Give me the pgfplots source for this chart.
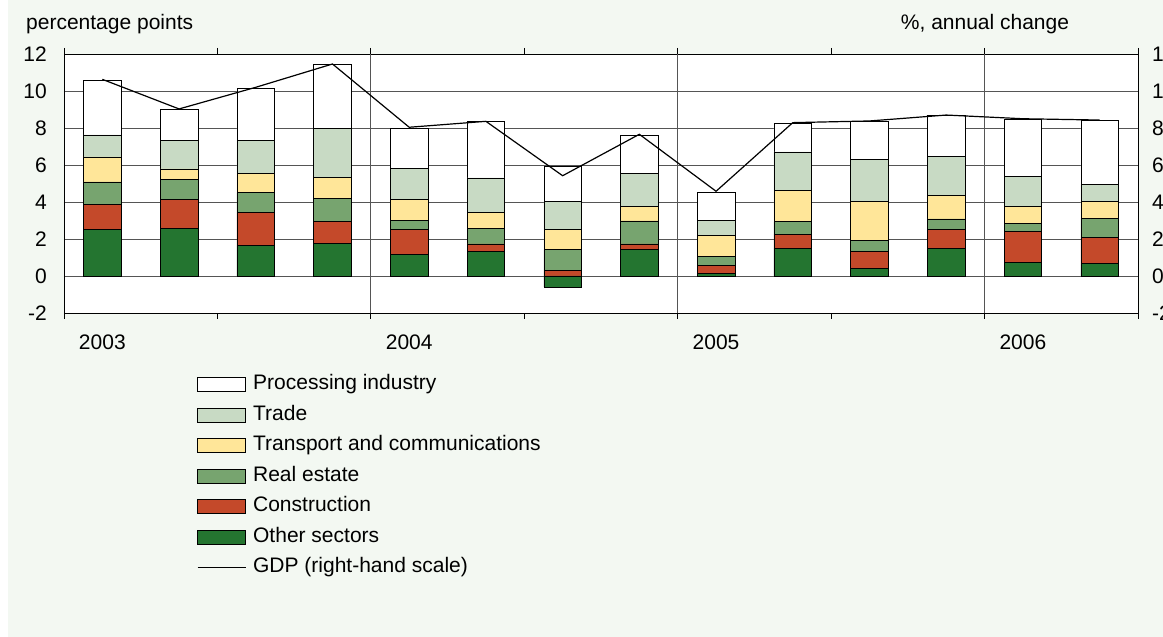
\documentclass[border=0pt]{standalone}
\usepackage{pgfplots}
\pgfplotsset{compat=1.18}
\usepackage{fontspec}
\setmainfont{Liberation Sans}
\definecolor{bg}{HTML}{F3F8F2}
\definecolor{ctrade}{HTML}{C8DAC4}
\definecolor{ctransp}{HTML}{FFE699}
\definecolor{creal}{HTML}{77A46F}
\definecolor{cconstr}{HTML}{C4492A}
\definecolor{cother}{HTML}{247530}
\definecolor{gridc}{HTML}{555555}
\newcommand{\fs}{\fontsize{21}{25}\selectfont}
\pgfplotsset{
  swatch/.style={legend image code/.code={\draw[##1,draw=black,line width=0.6pt] (0pt,-7pt) rectangle (48pt,7pt);}},
  lineswatch/.style={legend image code/.code={\draw[##1] (0pt,0pt) -- (48pt,0pt);}},
}
\begin{document}
\fs
\begin{tikzpicture}
\useasboundingbox (0pt,0pt) rectangle (1163pt,637pt);
\fill[bg] (8pt,0pt) rectangle (1163pt,637pt);

\begin{axis}[
  at={(64pt,324pt)}, anchor=south west,
  width=1074pt, height=259pt, scale only axis,
  ybar stacked, bar width=0.49,
  xmin=-0.5, xmax=13.5, ymin=-2, ymax=12,
  axis background/.style={fill=white},
  axis line style={black, line width=0.8pt},
  ytick={-2,0,2,4,6,8,10,12},
  yticklabels={-2,0,2,4,6,8,10,12},
  ymajorgrids, grid style={draw=gridc, line width=0.8pt},
  xtick={0,4,8,12}, xticklabels={2003,2004,2005,2006},
  major tick length=0pt, tick align=outside,
  minor xtick={-0.5,1.5,5.5,9.5,13.5}, minor tick length=6pt,
  extra x ticks={3.5,7.5,11.5}, extra x tick labels={},
  extra x tick style={grid=major, major tick length=6pt, tick style={black, line width=0.8pt}},
  tick style={black, line width=0.8pt},
  yticklabel style={inner sep=0pt, anchor=east, xshift=-17pt, font=\fs},
  xticklabel style={inner sep=0pt, anchor=north, yshift=-22pt, font=\fs},
  every axis plot/.append style={draw=black, line width=0.6pt},
]
% Other sectors
\addplot[fill=cother] coordinates {(0,2.50)(1,2.59)(2,1.64)(3,1.75)(4,1.15)(5,1.33)(6,-0.59)(7,1.42)(8,0.13)(9,1.50)(10,0.40)(11,1.50)(12,0.74)(13,0.67)};
% Construction
\addplot[fill=cconstr] coordinates {(0,1.35)(1,1.53)(2,1.78)(3,1.19)(4,1.35)(5,0.41)(6,0.31)(7,0.32)(8,0.43)(9,0.76)(10,0.94)(11,1.03)(12,1.68)(13,1.42)};
% Real estate
\addplot[fill=creal] coordinates {(0,1.24)(1,1.08)(2,1.08)(3,1.24)(4,0.49)(5,0.85)(6,1.12)(7,1.24)(8,0.50)(9,0.67)(10,0.58)(11,0.56)(12,0.41)(13,1.01)};
% Transport and communications
\addplot[fill=ctransp] coordinates {(0,1.35)(1,0.59)(2,1.05)(3,1.14)(4,1.14)(5,0.85)(6,1.08)(7,0.77)(8,1.12)(9,1.69)(10,2.11)(11,1.26)(12,0.94)(13,0.94)};
% Trade
\addplot[fill=ctrade] coordinates {(0,1.19)(1,1.53)(2,1.78)(3,2.67)(4,1.68)(5,1.86)(6,1.51)(7,1.80)(8,0.83)(9,2.09)(10,2.29)(11,2.11)(12,1.60)(13,0.90)};
% Processing industry
\addplot[fill=white] coordinates {(0,2.97)(1,1.68)(2,2.83)(3,3.46)(4,2.20)(5,3.05)(6,1.91)(7,2.07)(8,1.53)(9,1.55)(10,2.05)(11,2.20)(12,3.12)(13,3.48)};
\end{axis}

\begin{axis}[
  at={(64pt,324pt)}, anchor=south west,
  width=1074pt, height=259pt, scale only axis,
  xmin=-0.5, xmax=13.5, ymin=-2, ymax=12,
  axis x line=none, axis y line*=right,
  axis line style={black, line width=0.8pt},
  ytick={-2,0,2,4,6,8,10,12},
  yticklabels={-2,0,2,4,6,8,10,12},
  major tick length=0pt,
  yticklabel style={inner sep=0pt, anchor=west, xshift=14pt, font=\fs},
  legend style={at={(axis description cs:0.1238,-0.238)}, anchor=north west,
    draw=none, fill=none, inner sep=0pt, outer sep=0pt, row sep=10.5pt,
    font=\fs,
    nodes={inner sep=0pt, text height=15pt, text depth=5pt},
    /tikz/every odd column/.append style={column sep=7pt}},
  legend cell align=left,
]
\addlegendimage{swatch, fill=white}
\addlegendentry{Processing industry}
\addlegendimage{swatch, fill=ctrade}
\addlegendentry{Trade}
\addlegendimage{swatch, fill=ctransp}
\addlegendentry{Transport and communications}
\addlegendimage{swatch, fill=creal}
\addlegendentry{Real estate}
\addlegendimage{swatch, fill=cconstr}
\addlegendentry{Construction}
\addlegendimage{swatch, fill=cother}
\addlegendentry{Other sectors}
\addplot[black, line width=1.2pt, mark=none, lineswatch] coordinates {(0,10.63)(1,9.03)(2,10.2)(3,11.46)(4,8.04)(5,8.36)(6,5.42)(7,7.66)(8,4.58)(9,8.29)(10,8.38)(11,8.70)(12,8.50)(13,8.43)};
\addlegendentry{GDP (right-hand scale)}
\end{axis}

\node[anchor=base west, inner sep=0pt, font=\fs] at (26pt,607pt) {percentage points};
\node[anchor=base, inner sep=0pt, font=\fs] at (985pt,607pt) {\%, annual change};
\end{tikzpicture}
\end{document}
